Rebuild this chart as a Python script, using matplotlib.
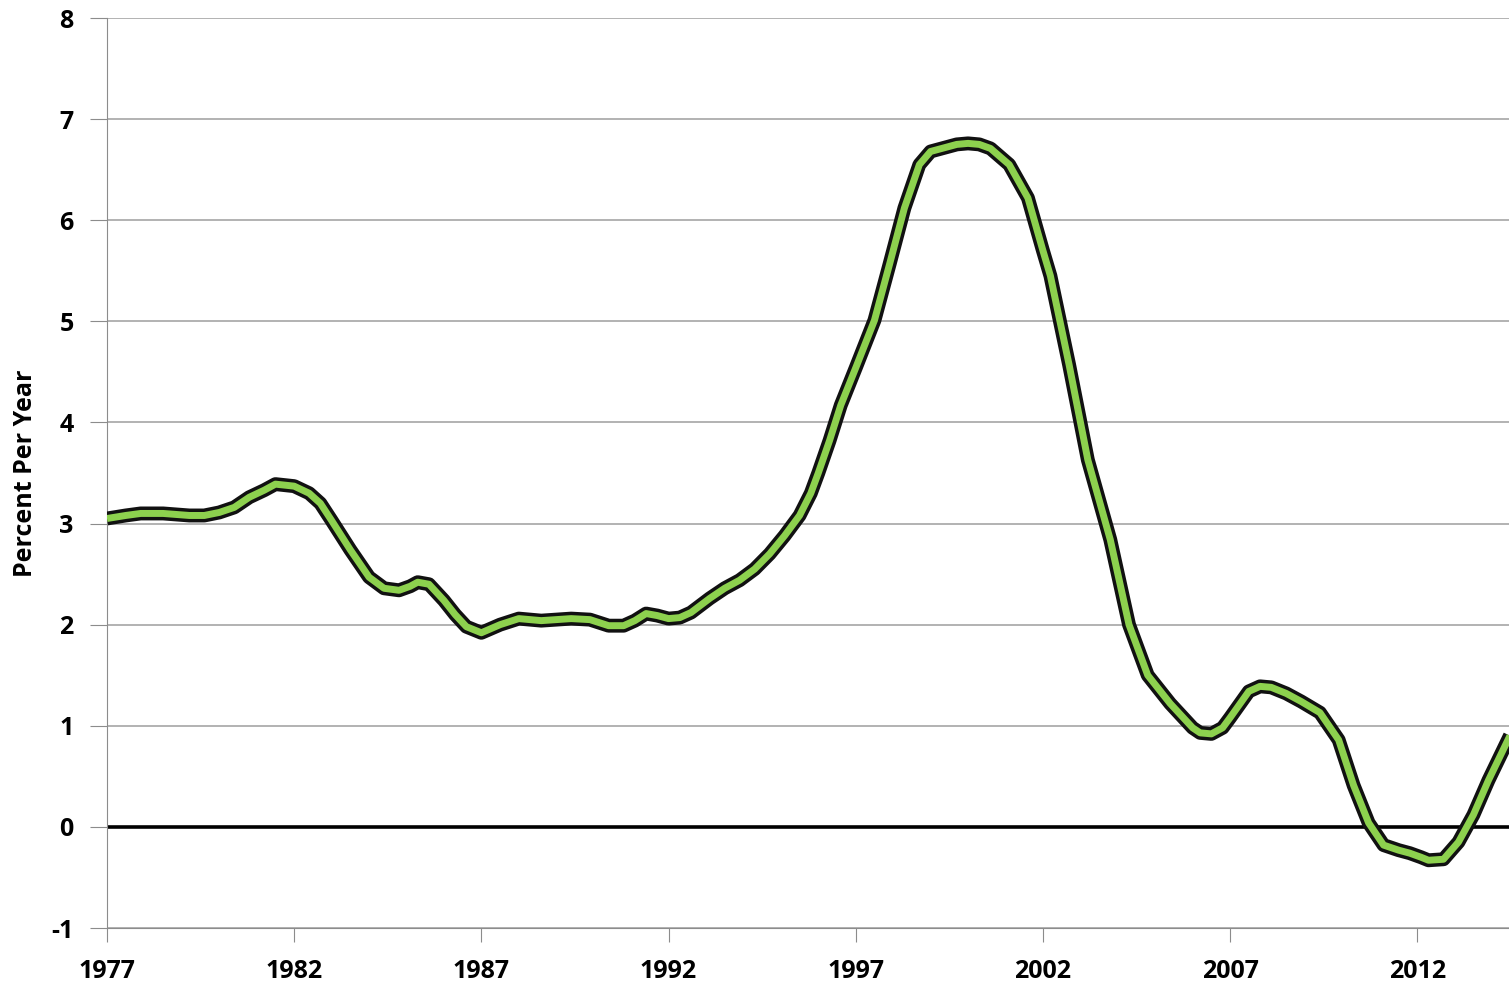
import numpy as np
import matplotlib.pyplot as plt
import matplotlib.patheffects as pe

plt.rcParams['font.family'] = ['Open Sans', 'DejaVu Sans']

# values (year, percent per year)
years = [1977.0, 1977.5, 1977.9, 1978.5, 1979.2, 1979.6, 1980.0, 1980.4, 1980.8, 1981.2,
         1981.5, 1982.0, 1982.4, 1982.7, 1983.0, 1983.5, 1984.0, 1984.4, 1984.8, 1985.1,
         1985.3, 1985.6, 1986.0, 1986.3, 1986.6, 1987.0, 1987.5, 1988.0, 1988.6, 1989.0,
         1989.4, 1989.9, 1990.4, 1990.8, 1991.1, 1991.4, 1991.7, 1992.0, 1992.3, 1992.6,
         1993.1, 1993.5, 1993.9, 1994.3, 1994.7, 1995.1, 1995.5, 1995.8, 1996.0, 1996.3,
         1996.6, 1997.0, 1997.5, 1997.9, 1998.3, 1998.7, 1999.0, 1999.4, 1999.7, 2000.0,
         2000.3, 2000.6, 2001.1, 2001.6, 2002.0, 2002.2, 2002.7, 2003.2, 2003.8, 2004.3,
         2004.8, 2005.4, 2006.0, 2006.2, 2006.5, 2006.8, 2007.0, 2007.5, 2007.8, 2008.1,
         2008.5, 2008.9, 2009.4, 2009.9, 2010.3, 2010.7, 2011.1, 2011.5, 2011.8, 2012.1,
         2012.3, 2012.7, 2013.1, 2013.5, 2013.9, 2014.5]
rate = [3.05, 3.08, 3.10, 3.10, 3.08, 3.08, 3.11, 3.16, 3.26, 3.33,
        3.39, 3.37, 3.30, 3.20, 3.03, 2.74, 2.47, 2.36, 2.34, 2.38,
        2.42, 2.40, 2.24, 2.10, 1.98, 1.92, 2.00, 2.06, 2.04, 2.05,
        2.06, 2.05, 1.99, 1.99, 2.04, 2.11, 2.09, 2.06, 2.07, 2.12,
        2.26, 2.36, 2.44, 2.55, 2.70, 2.88, 3.08, 3.30, 3.50, 3.82,
        4.17, 4.54, 5.01, 5.56, 6.12, 6.55, 6.68, 6.72, 6.75, 6.76,
        6.75, 6.71, 6.55, 6.22, 5.70, 5.45, 4.57, 3.63, 2.84, 2.00,
        1.50, 1.22, 0.98, 0.93, 0.92, 0.98, 1.08, 1.34, 1.39, 1.38,
        1.32, 1.24, 1.13, 0.86, 0.41, 0.04, -0.18, -0.23, -0.26, -0.30,
        -0.33, -0.32, -0.15, 0.12, 0.46, 0.92]

yticks = [-1, 0, 1, 2, 3, 4, 5, 6, 7, 8]
xticks = [1977, 1982, 1987, 1992, 1997, 2002, 2007, 2012]

fig = plt.figure(figsize=(15.09, 9.84), dpi=100)
ax = fig.add_axes([0.0709, 0.0569, 0.9291, 0.9248])

ax.plot(years, rate, color='#8dd14e', lw=5.0, solid_joinstyle='round', solid_capstyle='butt', zorder=3,
        path_effects=[pe.Stroke(linewidth=10, foreground='#111111', joinstyle='round'), pe.Normal()])
ax.axhline(0, color='black', lw=2.6, zorder=2)

ax.set_xlim(1977, 2014.45)
ax.set_ylim(-1, 8)
ax.set_yticks(yticks)
ax.set_xticks(xticks)
ax.set_yticklabels([str(t) for t in yticks], fontsize=18, fontweight='bold')
ax.set_xticklabels([str(t) for t in xticks], fontsize=18, fontweight='bold')
ax.grid(axis='y', color='#a6a6a6', lw=1.2)
ax.set_axisbelow(True)
for s in ['top', 'right']:
    ax.spines[s].set_visible(False)
ax.spines['left'].set_color('#8c8c8c')
ax.spines['bottom'].set_color('#8c8c8c')
ax.tick_params(axis='y', length=12, color='#8c8c8c', pad=12)
ax.tick_params(axis='x', length=10, color='#8c8c8c', pad=12)
ax.set_ylabel('Percent Per Year', fontsize=18, fontweight='bold')
ax.yaxis.set_label_coords(-0.049, 0.5)

plt.savefig('out.png')
